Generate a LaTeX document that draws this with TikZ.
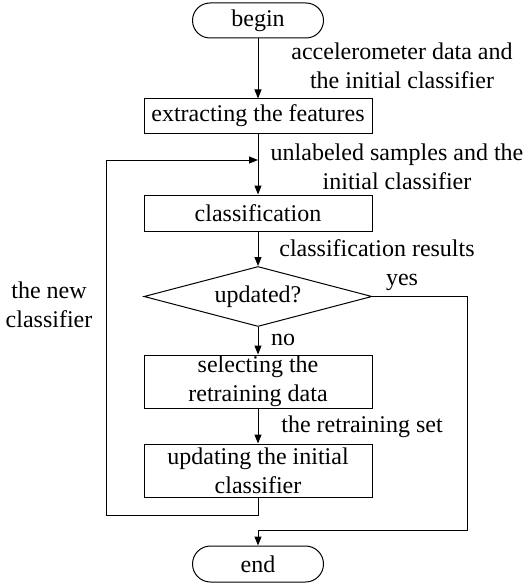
\documentclass[tikz,border=0pt]{standalone}
\usepackage{fontspec}
\setmainfont{Liberation Serif}
\usetikzlibrary{arrows.meta,shapes.geometric,shapes.misc}

\begin{document}
\begin{tikzpicture}[x=1pt,y=-1pt,
  font=\fontsize{24}{28.8}\selectfont,
  line width=1pt,
  stepbox/.style={draw, rectangle, minimum width=228, inner sep=0, align=center},
  terminal/.style={draw, rounded rectangle, minimum width=131, minimum height=35, inner sep=0},
  decision/.style={draw, diamond, aspect=3.8, minimum width=228, minimum height=60, inner sep=0},
  flow/.style={-{Triangle[length=9pt,width=7pt]}},
  lbl/.style={align=center, inner sep=0}]
\useasboundingbox (0,0) rectangle (527,583);

% main column
\node[terminal] (begin) at (258,20.5) {begin};
\node[stepbox, minimum height=34] (extract) at (258,116) {extracting the features};
\node[stepbox, minimum height=36] (classify) at (258,213) {classification};
\node[decision] (updated) at (258,296.5) {updated?};
\node[stepbox, minimum height=53] (select) at (258,381.5) {selecting the\\retraining data};
\node[stepbox, minimum height=53] (update) at (258,470.5) {updating the initial\\classifier};
\node[terminal, minimum height=36] (end) at (258,564) {end};

% routing points
\coordinate (merge) at (258,160);
\coordinate (loopbot) at (106,515);
\coordinate (looptop) at (106,160);
\coordinate (yesright) at (467,296.5);
\coordinate (yesbot) at (467,530);
\coordinate (yesjoin) at (258,530);

% connectors
\draw[flow] (begin) -- (extract);
\draw[flow] (extract) -- (classify);
\draw[flow] (classify) -- (updated);
\draw[flow] (updated) -- (select);
\draw[flow] (select) -- (update);
\draw[flow] (update.south) |- (loopbot) -- (looptop) -- (merge);
\draw[flow] (updated.east) -- (yesright) -- (yesbot) -- (yesjoin) -- (end.north);

% edge labels
\node[lbl] (l1) at (402,66) {accelerometer data and\\the initial classifier};
\node[lbl] (l2) at (397,167) {unlabeled samples and the\\initial classifier};
\node[lbl] (l3) at (377,248) {classification results};
\node[lbl] (l4) at (402,282) {yes};
\node[lbl] (l5) at (283,340) {no};
\node[lbl] (l6) at (362,427) {the retraining set};
\node[lbl] (l7) at (49,305) {the new\\classifier};
\end{tikzpicture}
\end{document}
